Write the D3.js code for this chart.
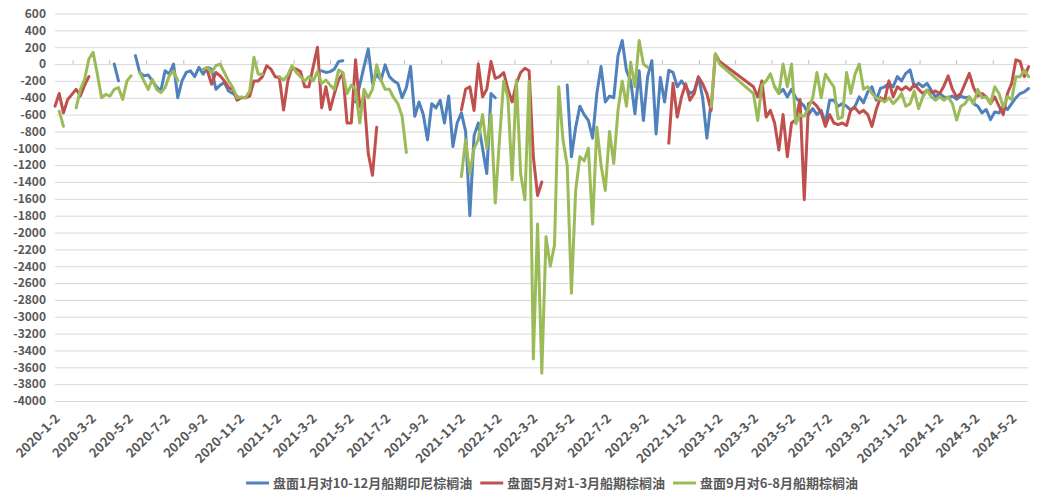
<!DOCTYPE html>
<html><head><meta charset="utf-8">
<script src="https://cdn.jsdelivr.net/npm/d3@7"></script>
<style>
body{margin:0;background:#fff}
text{font-family:"Noto Sans CJK SC","Microsoft YaHei",sans-serif}
</style>
</head><body>
<svg id="chart" width="1041" height="492"></svg>
<script>
// weekly observation dates (category axis)
const dates = [
"2020-01-02","2020-01-09","2020-01-16","2020-01-23","2020-01-30","2020-02-06","2020-02-13","2020-02-20","2020-02-27",
"2020-03-05","2020-03-12","2020-03-19","2020-03-26","2020-04-02","2020-04-09","2020-04-16","2020-04-23","2020-04-30",
"2020-05-07","2020-05-14","2020-05-21","2020-05-28","2020-06-04","2020-06-11","2020-06-18","2020-06-25",
"2020-07-02","2020-07-09","2020-07-16","2020-07-23","2020-07-30","2020-08-06","2020-08-13","2020-08-20","2020-08-27",
"2020-09-03","2020-09-10","2020-09-17","2020-09-24","2020-10-01","2020-10-08","2020-10-15","2020-10-22","2020-10-29",
"2020-11-05","2020-11-12","2020-11-19","2020-11-26","2020-12-03","2020-12-10","2020-12-17","2020-12-24","2020-12-31",
"2021-01-07","2021-01-14","2021-01-21","2021-01-28","2021-02-04","2021-02-11","2021-02-18","2021-02-25",
"2021-03-04","2021-03-11","2021-03-18","2021-03-25","2021-04-01","2021-04-08","2021-04-15","2021-04-22","2021-04-29",
"2021-05-06","2021-05-13","2021-05-20","2021-05-27","2021-06-03","2021-06-10","2021-06-17","2021-06-24",
"2021-07-01","2021-07-08","2021-07-15","2021-07-22","2021-07-29","2021-08-05","2021-08-12","2021-08-19","2021-08-26",
"2021-09-02","2021-09-09","2021-09-16","2021-09-23","2021-09-30","2021-10-07","2021-10-14","2021-10-21","2021-10-28",
"2021-11-04","2021-11-11","2021-11-18","2021-11-25","2021-12-02","2021-12-09","2021-12-16","2021-12-23","2021-12-30",
"2022-01-06","2022-01-13","2022-01-20","2022-01-27","2022-02-03","2022-02-10","2022-02-17","2022-02-24",
"2022-03-03","2022-03-10","2022-03-17","2022-03-24","2022-03-31","2022-04-07","2022-04-14","2022-04-21","2022-04-28",
"2022-05-05","2022-05-12","2022-05-19","2022-05-26","2022-06-02","2022-06-09","2022-06-16","2022-06-23","2022-06-30",
"2022-07-07","2022-07-14","2022-07-21","2022-07-28","2022-08-04","2022-08-11","2022-08-18","2022-08-25",
"2022-09-01","2022-09-08","2022-09-15","2022-09-22","2022-09-29","2022-10-06","2022-10-13","2022-10-20","2022-10-27",
"2022-11-03","2022-11-10","2022-11-17","2022-11-24","2022-12-01","2022-12-08","2022-12-15","2022-12-22","2022-12-29",
"2023-01-05","2023-01-12","2023-01-19","2023-01-26","2023-02-02","2023-02-09","2023-02-16","2023-02-23",
"2023-03-02","2023-03-09","2023-03-16","2023-03-23","2023-03-30","2023-04-06","2023-04-13","2023-04-20","2023-04-27",
"2023-05-04","2023-05-11","2023-05-18","2023-05-25","2023-06-01","2023-06-08","2023-06-15","2023-06-22","2023-06-29",
"2023-07-06","2023-07-13","2023-07-20","2023-07-27","2023-08-03","2023-08-10","2023-08-17","2023-08-24","2023-08-31",
"2023-09-07","2023-09-14","2023-09-21","2023-09-28","2023-10-05","2023-10-12","2023-10-19","2023-10-26",
"2023-11-02","2023-11-09","2023-11-16","2023-11-23","2023-11-30","2023-12-07","2023-12-14","2023-12-21","2023-12-28",
"2024-01-04","2024-01-11","2024-01-18","2024-01-25","2024-02-01","2024-02-08","2024-02-15","2024-02-22","2024-02-29",
"2024-03-07","2024-03-14","2024-03-21","2024-03-28","2024-04-04","2024-04-11","2024-04-18","2024-04-25",
"2024-05-02","2024-05-09","2024-05-16","2024-05-23","2024-05-30"
];

const seriesNames = ["盘面1月对10-12月船期印尼棕榈油","盘面5月对1-3月船期棕榈油","盘面9月对6-8月船期棕榈油"];
const seriesColors = ["#4F81BD","#C0504D","#9BBB59"];

const spreadJan = [
null,null,null,null,null,null,null,null,null,null,
null,null,null,null,0,-200,null,null,null,100,
-100,-140,-130,-200,-270,-320,-80,-120,0,-400,
-200,-100,-80,-150,-40,-120,-40,-60,-300,-250,
-220,-320,-350,-380,null,null,null,null,null,null,
null,null,null,null,null,null,null,null,null,null,
null,null,null,-80,-100,-90,-60,30,40,null,
null,-450,-250,-30,180,-230,-120,-190,-10,-150,
-200,-230,-400,-280,-30,-620,-450,-600,-900,-470,
-520,-430,-700,-380,-980,-700,-580,-800,-1800,-850,
-700,-1000,-1300,-350,-400,null,null,null,null,null,
null,null,null,null,null,null,null,null,null,null,
null,-250,-1100,-750,-500,-600,-670,-880,-350,-30,
-450,-380,-400,100,280,-80,-200,-590,-80,-670,
-150,40,-830,-160,-450,-75,-100,-270,-200,-270,
-350,-320,-150,-400,-880,-450,null,null,null,null,
null,null,null,null,null,null,null,null,null,null,
-270,-350,-300,-390,-300,-400,-450,-500,-600,-530,
-600,-550,-700,-430,-430,-500,-470,-500,-550,-500,
-390,-460,-330,-270,-430,-290,-270,-230,-270,-150,
-200,-110,-70,-270,-230,-270,-230,-310,-390,-350,
-390,-400,-380,-420,-380,-400,-390,-470,-500,-580,
-540,-660,-570,-580,-500,-540,-470,-400,-350,-330,
-290
];

const spreadMay = [
-500,-350,-580,-420,-360,-300,-380,-250,-150,null,
null,null,null,null,null,null,null,null,null,null,
null,null,null,null,null,null,null,null,null,null,
null,null,null,null,null,null,-80,-240,-100,-140,
-200,-280,-300,-430,-400,-400,-380,-200,-200,-150,
-20,-60,-150,-160,-545,-200,-40,-60,-90,-270,
-270,-30,200,-520,-270,-540,-350,-190,-110,-700,
-700,50,-510,-385,-1060,-1320,-750,null,null,null,
null,null,null,null,null,null,null,null,null,null,
null,null,null,null,null,null,-545,-300,-270,-550,
0,-390,-300,30,-170,-150,-100,-300,-450,-230,
-100,-50,-80,-1100,-1560,-1400,null,null,null,null,
null,null,null,null,null,null,null,null,null,null,
null,null,null,null,null,null,null,null,null,null,
null,null,null,null,null,-940,-230,-630,-390,-235,
-430,-350,-155,-235,-350,-550,120,30,null,null,
null,null,null,null,null,-270,-390,-200,-630,-550,
-700,-1020,-600,-1100,-700,-660,-420,-1610,-470,-450,
-500,-580,-740,-600,-700,-720,-700,-730,-540,-520,
-580,-550,-600,-740,-540,-400,-430,-200,-390,-270,
-310,-270,-310,-240,-300,-350,-310,-340,-320,-350,
-260,-140,-300,-390,-350,-230,-110,-280,-380,-350,
-390,-470,-390,-500,-600,-350,-230,50,30,-150,
-30
];

const spreadSep = [
null,-560,-740,null,null,-520,-300,-180,60,140,
-120,-400,-360,-380,-300,-280,-420,-200,-140,null,
-100,-200,-300,-180,-300,-340,-280,-140,-80,-200,
null,null,null,null,null,-60,-40,-100,-20,0,
-100,-200,-280,-400,-390,-400,-320,80,-120,-120,
null,null,null,-150,-190,-130,-20,-100,-150,-200,
-150,-200,-90,-230,-190,-250,-300,-70,-100,-350,
-250,-300,-700,-300,-400,-300,-10,-190,-300,-300,
-400,-470,-620,-1050,null,null,null,null,null,null,
null,null,null,null,null,null,-1335,-900,-1300,-1000,
-900,-600,-1000,-600,-1650,-900,-200,-400,-1375,-190,
-1300,-1610,-200,-3500,-1900,-3670,-2050,-2400,-2150,-270,
-900,-1200,-2720,-1500,-1100,-1150,-1000,-1900,-750,-1200,
-1500,-800,-1180,-550,-200,-500,20,-270,280,0,
-40,null,null,null,null,null,null,null,null,null,
null,null,null,null,null,-510,120,0,null,null,
null,null,null,null,null,-350,-670,-250,-200,-115,
-270,-350,0,-270,0,-710,-600,-620,-520,-400,
-100,-400,-120,-200,-270,-650,-630,-100,-350,-120,
0,-300,-270,-350,-400,-420,-450,-400,-470,-420,
-350,-500,-470,-320,-530,-390,-310,-390,-430,-390,
-430,-390,-470,-665,-500,-470,-390,-470,-300,-400,
-390,-470,-270,-350,-510,-390,-420,-150,-150,-75,
-150
];

const yTickValues = [600,400,200,0,-200,-400,-600,-800,-1000,-1200,-1400,-1600,-1800,-2000,-2200,-2400,-2600,-2800,-3000,-3200,-3400,-3600,-3800,-4000];
const xTickLabels = ["2020-1-2","2020-3-2","2020-5-2","2020-7-2","2020-9-2","2020-11-2","2021-1-2","2021-3-2","2021-5-2","2021-7-2","2021-9-2","2021-11-2","2022-1-2","2022-3-2","2022-5-2","2022-7-2","2022-9-2","2022-11-2","2023-1-2","2023-3-2","2023-5-2","2023-7-2","2023-9-2","2023-11-2","2024-1-2","2024-3-2","2024-5-2"];

const parse = d3.timeParse("%Y-%m-%d");
const parseLbl = d3.timeParse("%Y-%-m-%-d");
const allSeries = [spreadJan, spreadMay, spreadSep];

// rows: drop dates with no observation in any series (Excel date axis simply connects across them)
const rows = dates.map((d,i)=>({date: parse(d), v: allSeries.map(s=>s[i])}))
  .filter(r => r.v.some(v => v !== null));

const L = 55, R = 1028, T = 13.5, B = 401;
const svg = d3.select("#chart");

const x = d3.scaleTime().domain([parse("2020-01-02"), parse("2024-05-29")]).range([L, R]);
const y = d3.scaleLinear().domain([-4000, 600]).range([B, T]);

// y axis with gridlines
const yAxis = svg.append("g").attr("transform", `translate(${L},0)`)
  .call(d3.axisLeft(y).tickValues(yTickValues).tickSize(-(R-L)).tickPadding(9).tickFormat(d => String(d)));
yAxis.select(".domain").remove();
yAxis.selectAll(".tick line").attr("stroke", "#D9D9D9").attr("stroke-width", 1);
yAxis.selectAll(".tick text").attr("fill", "#595959").style("font-size", "12px").style("font-weight", "bold");

// small tick marks on the zero line, between labels
const labelDates = xTickLabels.map(parseLbl);
const midTicks = labelDates.map((d,i)=> i < labelDates.length-1 ? new Date((+d + +labelDates[i+1])/2) : new Date(+d + (+d - +labelDates[i-1])/2)).filter(d => x(d) <= R);
svg.append("g").selectAll("line").data(midTicks).join("line")
  .attr("x1", d => x(d)).attr("x2", d => x(d))
  .attr("y1", y(0) - 4).attr("y2", y(0))
  .attr("stroke", "#BFBFBF").attr("stroke-width", 1);

// x axis labels
const xAxis = svg.append("g").attr("transform", `translate(0,${B})`)
  .call(d3.axisBottom(x).tickValues(labelDates).tickSize(0).tickFormat((d,i)=>xTickLabels[i]));
xAxis.select(".domain").remove();
xAxis.selectAll(".tick text")
  .attr("y", 0).attr("dy", "0.35em").attr("x", 0)
  .attr("text-anchor", "end")
  .attr("transform", "translate(2,15) rotate(-45)")
  .attr("fill", "#595959").style("font-size", "13px").style("font-weight", "bold");

// lines
const plot = svg.append("g");
allSeries.forEach((s, k) => {
  const line = d3.line()
    .defined(r => r.v[k] !== null)
    .x(r => x(r.date)).y(r => y(r.v[k]));
  plot.append("path").datum(rows)
    .attr("d", line)
    .attr("fill", "none")
    .attr("stroke", seriesColors[k])
    .attr("stroke-width", 3)
    .attr("stroke-linejoin", "round")
    .attr("stroke-linecap", "round");
});

// legend
const leg = svg.append("g");
let cx = 0;
seriesNames.forEach((n, k) => {
  const g = leg.append("g").attr("transform", `translate(${cx},0)`);
  g.append("line").attr("x1", 0).attr("x2", 23).attr("y1", 0).attr("y2", 0)
    .attr("stroke", seriesColors[k]).attr("stroke-width", 3);
  const t = g.append("text").attr("x", 27).attr("y", 0).attr("dy", "0.35em")
    .attr("fill", "#595959").style("font-size", "13px").style("font-weight", "bold").text(n);
  cx += 27 + t.node().getComputedTextLength() + 8;
});
const legW = cx - 8;
leg.attr("transform", `translate(${552 - legW/2},483)`);
</script>
</body></html>
